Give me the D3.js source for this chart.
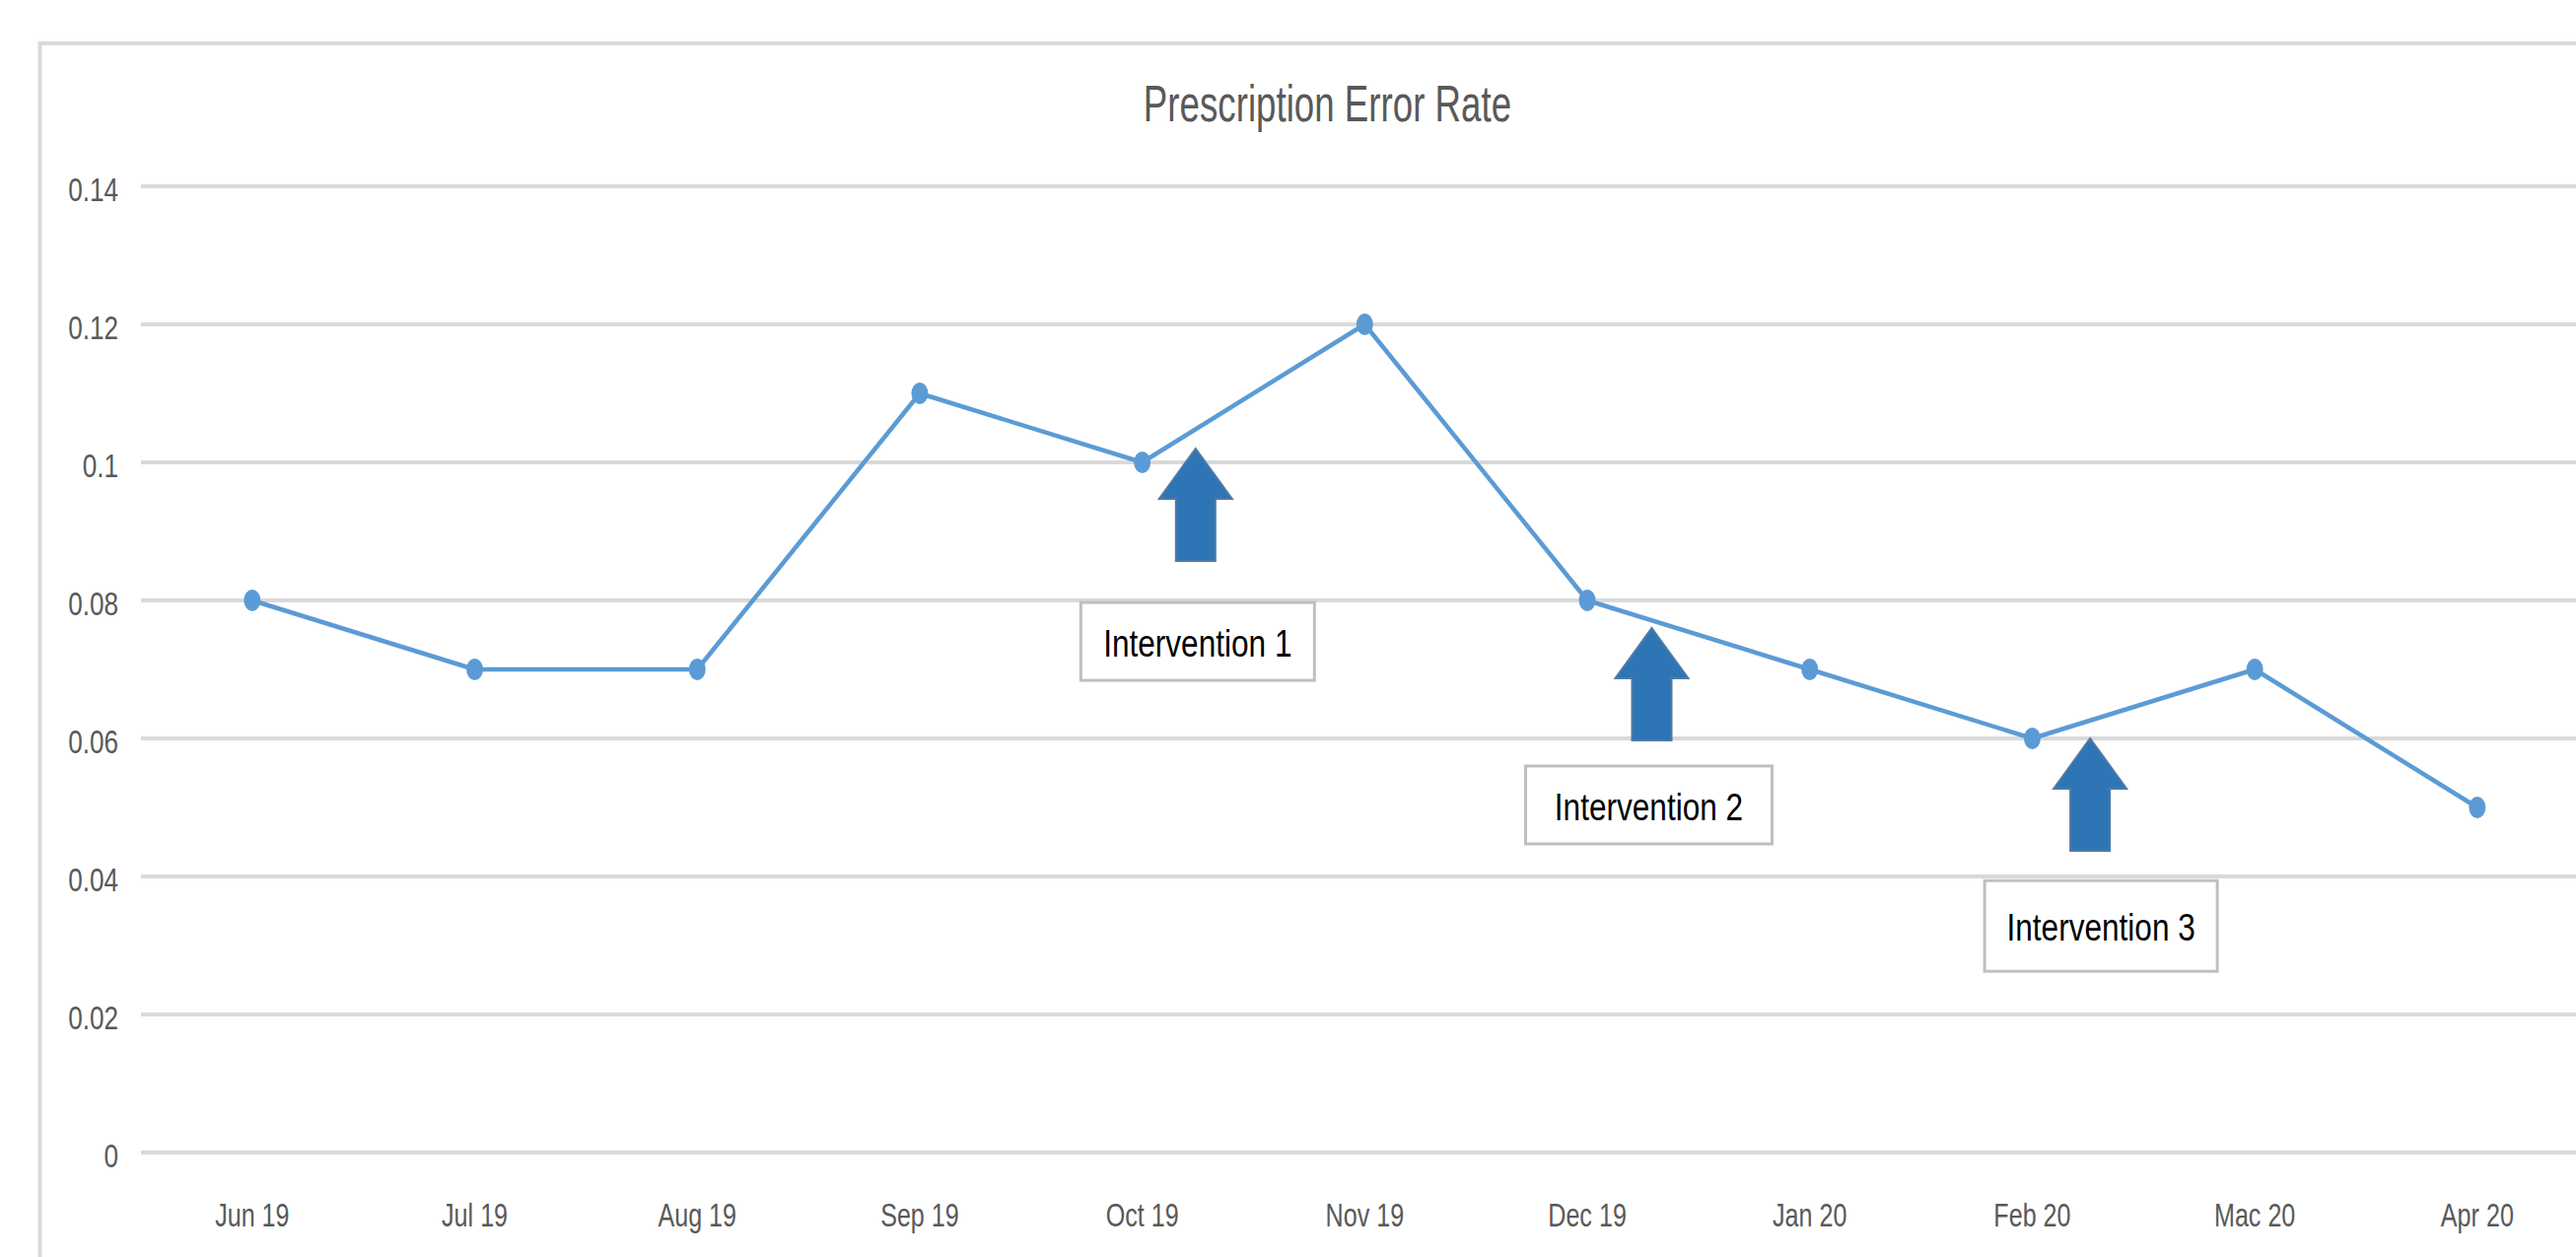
<!DOCTYPE html>
<html lang="en">
    <head>
        <meta charset="utf-8">
        <script type="text/javascript" src="https://d3js.org/d3.v7.min.js"></script>
        <style type="text/css">
          body { margin: 0; background: #fff; }
          text { font-family: "Liberation Sans", Arial, sans-serif; }
        </style>
    </head>
    <body>
      <script type="text/javascript">
        // chart data
        var months = ["Jun 19", "Jul 19", "Aug 19", "Sep 19", "Oct 19", "Nov 19",
                      "Dec 19", "Jan 20", "Feb 20", "Mac 20", "Apr 20"];
        var errorRate = [0.08, 0.07, 0.07, 0.11, 0.10, 0.12, 0.08, 0.07, 0.06, 0.07, 0.05];
        var yTicks = [0, 0.02, 0.04, 0.06, 0.08, 0.1, 0.12, 0.14];
        var yTickLabels = ["0", "0.02", "0.04", "0.06", "0.08", "0.1", "0.12", "0.14"];

        // interventions, anchored after a month
        var interventions = ["Intervention 1", "Intervention 2", "Intervention 3"];
        var interventionMonth = ["Oct 19", "Dec 19", "Feb 20"];

        // where arrows and boxes sit (fraction of a band, value of arrow tip, box top value)
        var arrowShift = [0.24, 0.29, 0.26];
        var arrowTip = [0.102, 0.076, 0.06];
        var boxTop = [0.0797, 0.056, 0.0394];
        var boxSize = [[237, 79], [250, 79], [236, 92]];
        var boxDx = [2, -3, 11];

        // size of svg
        var w = 2613;
        var h = 1275;
        var plotLeft = 143;
        var band = 225.7;

        var svg = d3.select("body").append("svg").attr("width", w).attr("height", h);

        // chart area border (runs off the right and bottom edge)
        svg.append("rect")
           .attr("x", 40.5).attr("y", 44)
           .attr("width", 2800).attr("height", 1400)
           .attr("fill", "#fff")
           .attr("stroke", "#d9d9d9")
           .attr("stroke-width", 4);

        // scales
        var xScale = d3.scaleBand()
                       .domain(months)
                       .range([plotLeft, plotLeft + band * months.length]);
        var yScale = d3.scaleLinear()
                       .domain([0, 0.14])
                       .range([1169, 189]);

        // gridlines
        svg.append("g")
           .selectAll("line")
           .data(yTicks)
           .enter()
           .append("line")
           .attr("x1", plotLeft)
           .attr("x2", w + 50)
           .attr("y1", function(d) { return yScale(d); })
           .attr("y2", function(d) { return yScale(d); })
           .attr("stroke", "#d9d9d9")
           .attr("stroke-width", 4);

        // title
        svg.append("text")
           .attr("transform", "translate(1346.5,123) scale(0.71,1)")
           .attr("text-anchor", "middle")
           .attr("font-size", "51.7px")
           .attr("fill", "#595959")
           .text("Prescription Error Rate");

        // y axis
        var yAxis = svg.append("g")
           .attr("transform", "translate(120,0)")
           .call(d3.axisLeft(yScale)
                   .tickValues(yTicks)
                   .tickSize(0)
                   .tickPadding(0)
                   .tickFormat(function(d, i) { return yTickLabels[i]; }));
        yAxis.select(".domain").remove();
        yAxis.selectAll("text")
             .attr("dy", 14)
             .attr("transform", "scale(0.78,1)")
             .attr("font-size", "33.5px")
             .attr("font-family", null)
             .attr("fill", "#595959");

        // x axis
        var xAxis = svg.append("g")
           .attr("transform", "translate(0," + yScale(0) + ")")
           .call(d3.axisBottom(xScale).tickSize(0).tickPadding(0));
        xAxis.select(".domain").remove();
        xAxis.selectAll("text")
             .attr("y", 0)
             .attr("dy", 75)
             .attr("transform", "scale(0.75,1)")
             .attr("font-size", "33.5px")
             .attr("font-family", null)
             .attr("fill", "#595959");

        // line
        var cx = function(d, i) { return xScale(months[i]) + xScale.bandwidth() / 2; };
        var line = d3.line()
                     .x(cx)
                     .y(function(d) { return yScale(d); });

        svg.append("path")
           .datum(errorRate)
           .attr("d", line)
           .attr("fill", "none")
           .attr("stroke", "#5b9bd5")
           .attr("stroke-width", 4.5)
           .attr("stroke-linejoin", "round");

        svg.append("g")
           .selectAll("ellipse")
           .data(errorRate)
           .enter()
           .append("ellipse")
           .attr("cx", cx)
           .attr("cy", function(d) { return yScale(d); })
           .attr("rx", 8.5)
           .attr("ry", 11)
           .attr("fill", "#5b9bd5");

        // intervention arrows and labels
        var arrowShape = "M0,0 L37,51 L20,51 L20,114 L-20,114 L-20,51 L-37,51 Z";
        interventions.forEach(function(label, i) {
          var ax = xScale(interventionMonth[i]) + xScale.bandwidth() * (0.5 + arrowShift[i]);
          var ay = yScale(arrowTip[i]);
          svg.append("path")
             .attr("d", arrowShape)
             .attr("transform", "translate(" + ax + "," + ay + ")")
             .attr("fill", "#2e75b6")
             .attr("stroke", "#4f7aa6")
             .attr("stroke-width", 2);

          var bw = boxSize[i][0], bh = boxSize[i][1];
          var bx = ax + boxDx[i] - bw / 2;
          var by = yScale(boxTop[i]);
          svg.append("rect")
             .attr("x", bx).attr("y", by)
             .attr("width", bw).attr("height", bh)
             .attr("fill", "#fff")
             .attr("stroke", "#bfbfbf")
             .attr("stroke-width", 3);
          svg.append("text")
             .attr("transform", "translate(" + (bx + bw / 2) + "," + (by + bh / 2 + 15) + ") scale(0.81,1)")
             .attr("text-anchor", "middle")
             .attr("font-size", "39px")
             .attr("fill", "#000")
             .text(label);
        });
      </script>
    </body>
</html>
